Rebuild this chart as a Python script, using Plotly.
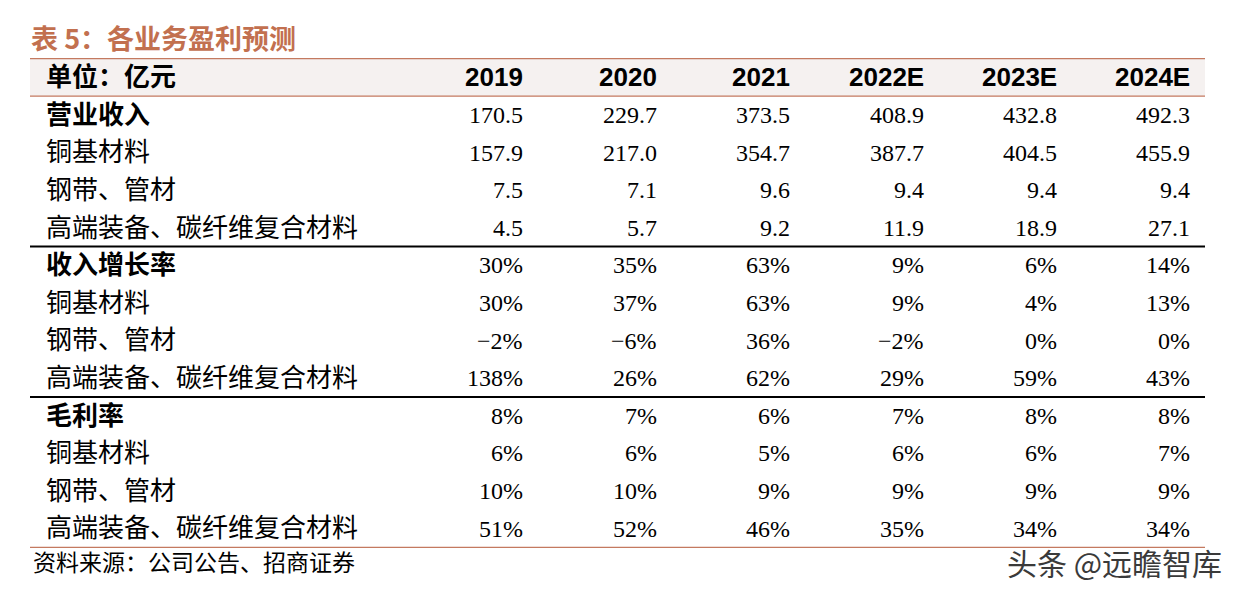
import plotly.graph_objects as go

title = "表 5：各业务盈利预测"
unit_label = "单位：亿元"
years = ["2019", "2020", "2021", "2022E", "2023E", "2024E"]
row_labels = [
    "营业收入", "铜基材料", "钢带、管材", "高端装备、碳纤维复合材料",
    "收入增长率", "铜基材料", "钢带、管材", "高端装备、碳纤维复合材料",
    "毛利率", "铜基材料", "钢带、管材", "高端装备、碳纤维复合材料",
]
bold_rows = [0, 4, 8]
revenue_total = ["170.5", "229.7", "373.5", "408.9", "432.8", "492.3"]
revenue_copper = ["157.9", "217.0", "354.7", "387.7", "404.5", "455.9"]
revenue_steel = ["7.5", "7.1", "9.6", "9.4", "9.4", "9.4"]
revenue_carbon = ["4.5", "5.7", "9.2", "11.9", "18.9", "27.1"]
growth_total = ["30%", "35%", "63%", "9%", "6%", "14%"]
growth_copper = ["30%", "37%", "63%", "9%", "4%", "13%"]
growth_steel = ["−2%", "−6%", "36%", "−2%", "0%", "0%"]
growth_carbon = ["138%", "26%", "62%", "29%", "59%", "43%"]
margin_total = ["8%", "7%", "6%", "7%", "8%", "8%"]
margin_copper = ["6%", "6%", "5%", "6%", "6%", "7%"]
margin_steel = ["10%", "10%", "9%", "9%", "9%", "9%"]
margin_carbon = ["51%", "52%", "46%", "35%", "34%", "34%"]
source_note = "资料来源：公司公告、招商证券"
watermark = "头条 @远瞻智库"

rows = [revenue_total, revenue_copper, revenue_steel, revenue_carbon,
        growth_total, growth_copper, growth_steel, growth_carbon,
        margin_total, margin_copper, margin_steel, margin_carbon]

# layout constants (pixels horizontally, row units vertically)
W, H = 1240, 594
PAGE_OFFSET = 8  # browser default body margin
ROW0_PX, ROW_PX = 115.0, 37.6
col_right = [525, 659, 792, 926, 1059, 1192]
label_x = 44
label_dy = -0.07
tbl_left, tbl_right = 30, 1205
brown = "#C47A60"
title_color = "#C2704F"
num_font = "Liberation Serif, Noto Sans CJK SC, serif"
cjk_font = "Noto Sans CJK SC, sans-serif"

y_top = (PAGE_OFFSET - ROW0_PX) / ROW_PX
y_bot = y_top + H / ROW_PX

annotations = []
shapes = []

# header band
shapes.append(dict(type="rect", xref="x", yref="y", x0=tbl_left, x1=tbl_right, y0=-1.5, y1=-0.5,
                   fillcolor="#F5F1F0", line=dict(width=0), layer="below"))
for yy in (-1.5, -0.5):
    shapes.append(dict(type="line", xref="x", yref="y", x0=tbl_left, x1=tbl_right, y0=yy, y1=yy,
                       line=dict(color=brown, width=1.2)))
for yy in (3.5, 7.5):
    shapes.append(dict(type="line", xref="x", yref="y", x0=tbl_left, x1=tbl_right, y0=yy, y1=yy,
                       line=dict(color="#000000", width=2)))
shapes.append(dict(type="line", xref="x", yref="y", x0=tbl_left, x1=tbl_right, y0=11.5, y1=11.5,
                   line=dict(color=brown, width=1.2)))

# title
annotations.append(dict(x=tbl_left - 1, y=-2.06, text="<b>" + title + "</b>", xanchor="left", yanchor="middle",
                        showarrow=False, font=dict(family=cjk_font, size=27, color=title_color)))
# header
annotations.append(dict(x=label_x, y=-1.0 + label_dy, text="<b>" + unit_label + "</b>", xanchor="left",
                        yanchor="middle", showarrow=False, font=dict(family=cjk_font, size=26, color="#000")))
for j, yr in enumerate(years):
    annotations.append(dict(x=col_right[j], y=-1.0, text="<b>" + yr + "</b>", xanchor="right", yanchor="middle",
                            showarrow=False, font=dict(family="Liberation Sans, Arial", size=26, color="#000")))

# body
for i, (lab, vals) in enumerate(zip(row_labels, rows)):
    txt = "<b>" + lab + "</b>" if i in bold_rows else lab
    annotations.append(dict(x=label_x, y=i + label_dy, text=txt, xanchor="left", yanchor="middle",
                            showarrow=False, font=dict(family=cjk_font, size=26, color="#000")))
    for j, v in enumerate(vals):
        annotations.append(dict(x=col_right[j], y=i, text=v, xanchor="right", yanchor="middle", showarrow=False,
                                font=dict(family=num_font, size=24, color="#000")))

# footer
annotations.append(dict(x=tbl_left + 1, y=11.86, text=source_note, xanchor="left", yanchor="middle",
                        showarrow=False, font=dict(family=cjk_font, size=23, color="#000")))
annotations.append(dict(x=1224, y=11.88, text=watermark, xanchor="right", yanchor="middle",
                        showarrow=False, font=dict(family=cjk_font, size=30, color="#3a3a3a")))

fig = go.Figure()
fig.add_trace(go.Scatter(x=[tbl_left], y=[0], mode="markers", marker=dict(opacity=0), hoverinfo="skip",
                         showlegend=False))
fig.update_layout(
    width=W, height=H, margin=dict(l=0, r=0, t=0, b=0),
    paper_bgcolor="white", plot_bgcolor="white",
    xaxis=dict(range=[PAGE_OFFSET, W + PAGE_OFFSET], visible=False, fixedrange=True),
    yaxis=dict(range=[y_bot, y_top], visible=False, fixedrange=True),
    shapes=shapes, annotations=annotations, showlegend=False,
)
fig.write_html("out.html")
